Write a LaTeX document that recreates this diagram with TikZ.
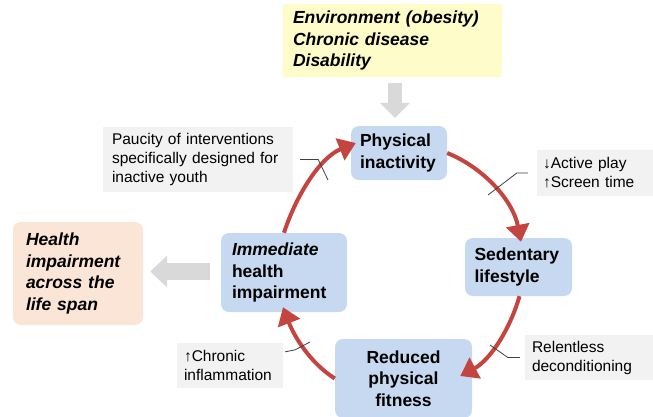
\documentclass[tikz,border=0pt]{standalone}
\usepackage{fontspec}
\setmainfont{Liberation Sans}
\usetikzlibrary{arrows.meta,calc}
\definecolor{boxblue}{RGB}{198,217,240}
\definecolor{peach}{RGB}{251,229,214}
\definecolor{paleyellow}{RGB}{254,252,200}
\definecolor{lblgray}{RGB}{242,242,242}
\definecolor{arrowgray}{RGB}{217,217,217}
\definecolor{cyclered}{RGB}{196,68,64}
\definecolor{calloutgray}{RGB}{64,64,64}
\tikzset{
  mainbox/.style={inner ysep=0pt, font=\fontsize{17.5}{21.5}\selectfont\bfseries},
  bluebox/.style={mainbox, rounded corners=8pt, fill=boxblue},
  lbl/.style={fill=lblgray, inner ysep=0pt, align=left, font=\fontsize{15.5}{19}\selectfont},
  cyc/.style={draw=cyclered, line width=4pt, -{Triangle[width=23pt,length=17pt]}},
  downarrow/.style={draw=arrowgray, line width=14pt, -{Triangle[width=29pt,length=15pt]}},
  leftarrow/.style={draw=arrowgray, line width=17pt, -{Triangle[width=31pt,length=17pt]}},
  callout/.style={draw=calloutgray, line width=0.8pt},
}
\begin{document}
\begin{tikzpicture}[x=1pt,y=-1pt]
\useasboundingbox (0,0) rectangle (653,416);

% main boxes
\node[mainbox, fill=paleyellow, minimum width=219pt, minimum height=73pt,
      text width=199pt, inner xsep=10pt, align=left, font=\fontsize{17.5}{21.5}\selectfont\bfseries\itshape]
  (yb) at (392.5,40.5) {Environment (obesity)\\Chronic disease\\Disability};
\node[bluebox, minimum width=96pt, minimum height=54pt, text width=78pt, inner xsep=9pt, align=left]
  (pi) at (399,153) {Physical\\inactivity};
\node[bluebox, minimum width=107pt, minimum height=58pt, text width=88pt, inner xsep=9.5pt, align=left]
  (sl) at (518.5,267) {Sedentary\\lifestyle};
\node[bluebox, minimum width=137pt, minimum height=79pt, text width=117pt, inner xsep=10pt, align=center]
  (rf) at (403.5,378.5) {Reduced\\physical\\fitness};
\node[bluebox, minimum width=126pt, minimum height=79pt, text width=104pt, inner xsep=11pt, align=left]
  (imh) at (284,272.5) {{\itshape Immediate}\\health\\impairment};
\node[mainbox, rounded corners=8pt, fill=peach, minimum width=130pt, minimum height=103pt,
      text width=104pt, inner xsep=13pt, align=left, font=\fontsize{17.5}{21.5}\selectfont\bfseries\itshape]
  (hl) at (78,273.5) {Health\\impairment\\across the\\life span};

% label boxes
\node[lbl, minimum width=190pt, minimum height=65pt, text width=172pt, inner xsep=9pt]
  (pa) at (198,159.5) {Paucity of interventions\\specifically designed for\\inactive youth};
\node[lbl, minimum width=116pt, minimum height=46pt, text width=104pt, inner xsep=6pt]
  (ac) at (595,173) {↓Active play\\↑Screen time};
\node[lbl, minimum width=128pt, minimum height=45pt, text width=114pt, inner xsep=7pt]
  (re) at (589,357.5) {Relentless\\deconditioning};
\node[lbl, minimum width=106pt, minimum height=45pt, text width=92pt, inner xsep=7pt]
  (ci) at (230,365.5) {↑Chronic\\inflammation};

% gray block arrows
\draw[downarrow, shorten <=6pt, shorten >=8pt] ([xshift=2.5pt]yb.south) -- ([xshift=-4pt]pi.north);
\draw[leftarrow, shorten <=11pt, shorten >=7pt] ([yshift=1pt]imh.west) -- ([yshift=1pt]imh.west -| hl.east);

% cycle arrows
\draw[cyc] (pi.east) .. controls +(37,15) and +(-8,-41) .. ($(sl.north)+(2.5,4)$);
\draw[cyc] ($(sl.south)+(1,0)$) .. controls +(-9.5,33) and +(30,-16) .. ($(rf.east)+(-12,-2.5)$);
\draw[cyc] (rf.west) .. controls +(-26,-16.5) and +(10.4,27.2) .. ($(imh.south)+(-1,-5)$);
\draw[cyc] (imh.north) .. controls +(12,-37) and +(-36,14.5) .. ($(pi.west)+(5,-10)$);

% callout lines
\coordinate (pa1) at (328,180);
\coordinate (ac1) at (488,195);
\coordinate (re1) at (490,345);
\coordinate (ci1) at (310,342);
\draw[callout, shorten <=7pt] (pa.east) -- ++(25,0) -- (pa1);
\draw[callout, shorten <=9pt] (ac.west) -- ++(-20,0) -- (ac1);
\draw[callout, shorten <=5pt] (re.west) -- ++(-17,0) -- (re1);
\draw[callout] ($(ci.north east)+(2,9)$) -- ++(10,-2) -- (ci1);
\end{tikzpicture}
\end{document}
